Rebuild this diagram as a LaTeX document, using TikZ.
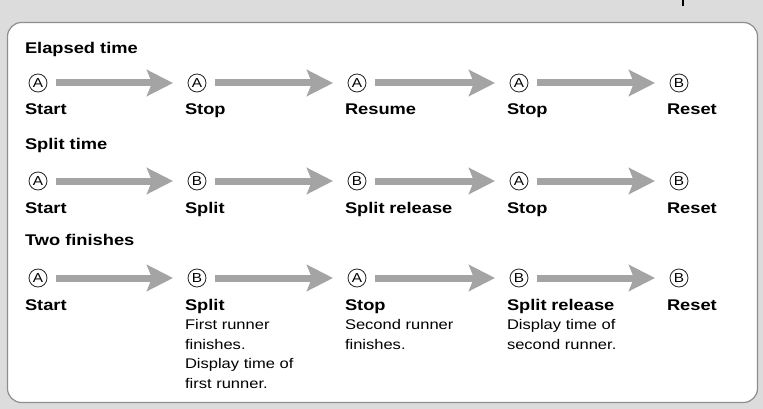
\documentclass[tikz,border=0pt]{standalone}
\usepackage{fontspec}
\setmainfont{Liberation Sans}[FakeStretch=1.18]
\usepackage{tikz}
\definecolor{panelgray}{HTML}{DCDCDC}
\definecolor{arrowgray}{HTML}{A4A4A4}
\definecolor{framegray}{HTML}{8E8E8E}
\usetikzlibrary{positioning, arrows.meta}
\tikzstyle{arrow} = [line width=7pt, draw=arrowgray, -{Stealth[length=26pt,width=26pt,inset=5pt]}, shorten <=9pt, shorten >=15pt]

\begin{document}
\begin{tikzpicture}[x=1pt, y=-1pt]
    \tikzstyle{every node}=[inner sep=0pt, outer sep=0pt]
    \tikzstyle{heading} = [anchor=base west, font=\fontsize{15.5}{18}\selectfont\bfseries]
    \tikzstyle{label} = [anchor=base west, align=left, text width=150pt, font=\fontsize{14}{19.5}\selectfont]
    \tikzstyle{key} = [circle, draw=black!85, line width=0.8pt, minimum size=18pt, font=\fontsize{13}{13}\selectfont]

    % panel
    \useasboundingbox (0,0) rectangle (763,409);
    \fill[panelgray] (0,0) rectangle (763,409);
    \draw[framegray, fill=white, line width=1.2pt, rounded corners=14pt] (7.5,22.5) rectangle (757.5,402.5);
    \draw[black, line width=2pt] (683,0) -- (683,6);

    % Elapsed time
    \node[heading] (h1) at (25,53.5) {Elapsed time};
    \node[key] (e1) at (38,83) {A};
    \node[key] (e2) at (197,83) {A};
    \node[key] (e3) at (357,83) {A};
    \node[key] (e4) at (519,83) {A};
    \node[key] (e5) at (679,83) {B};
    \node[label] (le1) at (25,114.5) {\fontsize{15.5}{18}\selectfont\bfseries Start};
    \node[label] (le2) at (185,114.5) {\fontsize{15.5}{18}\selectfont\bfseries Stop};
    \node[label] (le3) at (345,114.5) {\fontsize{15.5}{18}\selectfont\bfseries Resume};
    \node[label] (le4) at (507,114.5) {\fontsize{15.5}{18}\selectfont\bfseries Stop};
    \node[label] (le5) at (667,114.5) {\fontsize{15.5}{18}\selectfont\bfseries Reset};
    \draw[arrow] (e1) -- (e2);
    \draw[arrow] (e2) -- (e3);
    \draw[arrow] (e3) -- (e4);
    \draw[arrow] (e4) -- (e5);

    % Split time
    \node[heading] (h2) at (25,149.5) {Split time};
    \node[key] (s1) at (38,181) {A};
    \node[key] (s2) at (197,181) {B};
    \node[key] (s3) at (357,181) {B};
    \node[key] (s4) at (519,181) {A};
    \node[key] (s5) at (679,181) {B};
    \node[label] (ls1) at (25,213) {\fontsize{15.5}{18}\selectfont\bfseries Start};
    \node[label] (ls2) at (185,213) {\fontsize{15.5}{18}\selectfont\bfseries Split};
    \node[label] (ls3) at (345,213) {\fontsize{15.5}{18}\selectfont\bfseries Split release};
    \node[label] (ls4) at (507,213) {\fontsize{15.5}{18}\selectfont\bfseries Stop};
    \node[label] (ls5) at (667,213) {\fontsize{15.5}{18}\selectfont\bfseries Reset};
    \draw[arrow] (s1) -- (s2);
    \draw[arrow] (s2) -- (s3);
    \draw[arrow] (s3) -- (s4);
    \draw[arrow] (s4) -- (s5);

    % Two finishes
    \node[heading] (h3) at (25,245.5) {Two finishes};
    \node[key] (t1) at (38,278) {A};
    \node[key] (t2) at (197,278) {B};
    \node[key] (t3) at (357,278) {A};
    \node[key] (t4) at (519,278) {B};
    \node[key] (t5) at (679,278) {B};
    \node[label] (lt1) at (25,310) {\fontsize{15.5}{18}\selectfont\bfseries Start};
    \node[label] (lt2) at (185,310) {{\fontsize{15.5}{18}\selectfont\bfseries Split}\\First runner\\finishes.\\Display time of\\first runner.};
    \node[label] (lt3) at (345,310) {{\fontsize{15.5}{18}\selectfont\bfseries Stop}\\Second runner\\finishes.};
    \node[label] (lt4) at (507,310) {{\fontsize{15.5}{18}\selectfont\bfseries Split release}\\Display time of\\second runner.};
    \node[label] (lt5) at (667,310) {\fontsize{15.5}{18}\selectfont\bfseries Reset};
    \draw[arrow] (t1) -- (t2);
    \draw[arrow] (t2) -- (t3);
    \draw[arrow] (t3) -- (t4);
    \draw[arrow] (t4) -- (t5);
\end{tikzpicture}
\end{document}
